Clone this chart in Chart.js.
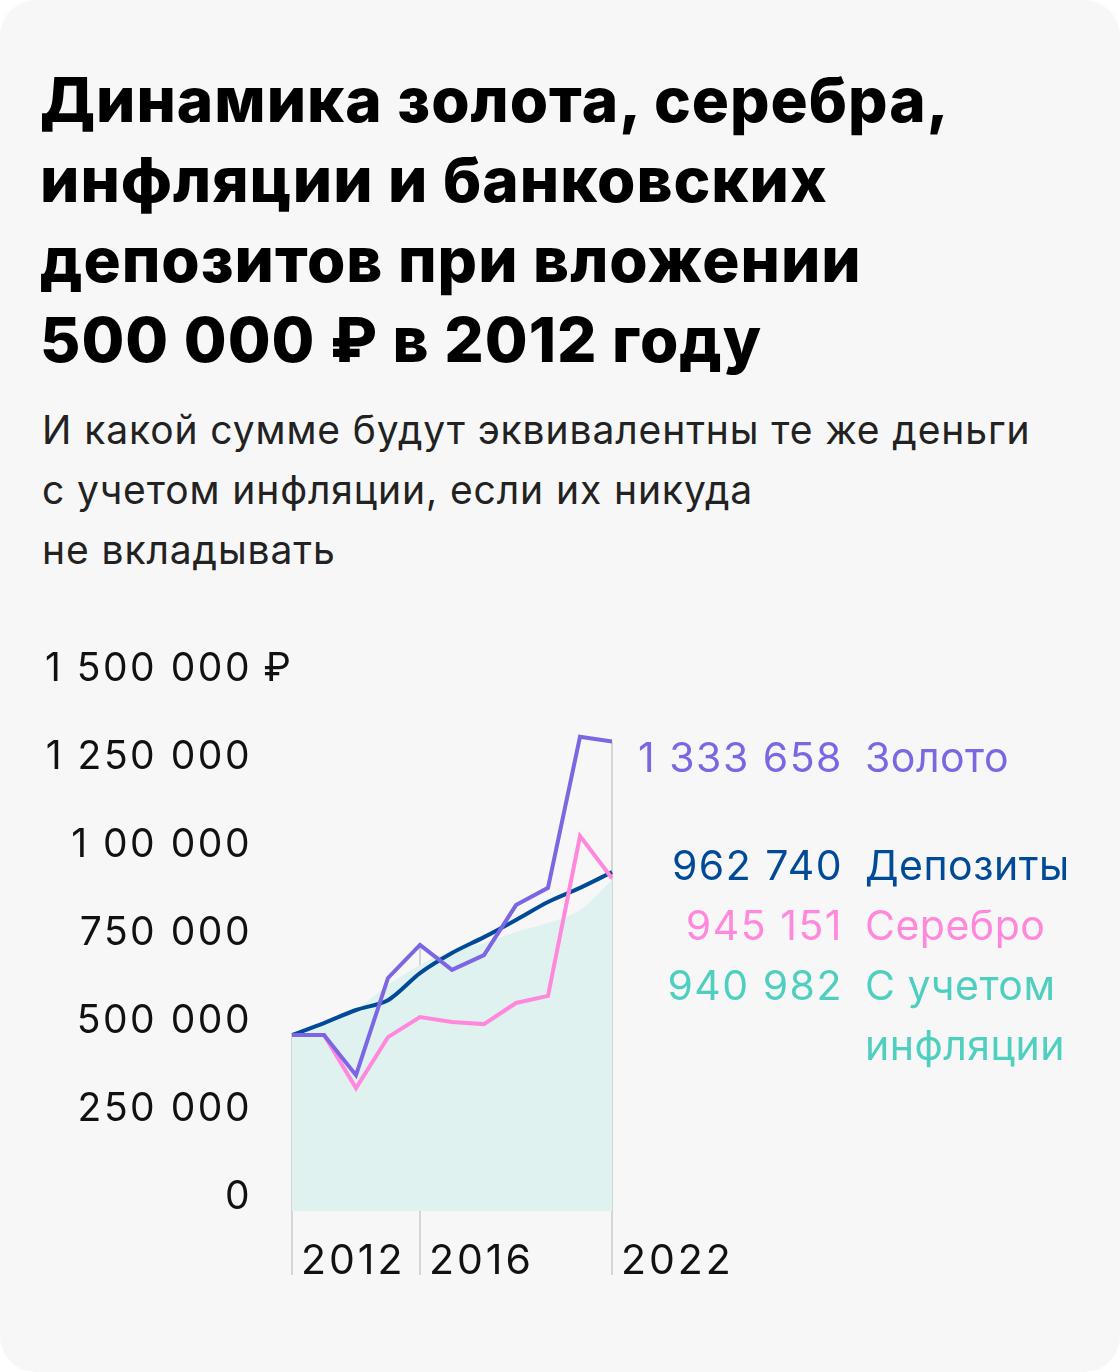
<!DOCTYPE html>
<html>
<head>
<meta charset="utf-8">
<script src="https://cdn.jsdelivr.net/npm/chart.js@4"></script>
<style>
  body { margin: 0; background: #fff; font-family: Inter, Roboto, sans-serif; }
  .card { position: absolute; left: 0; top: 0; width: 1120px; height: 1372px; background: #f7f7f7; border-radius: 36px; overflow: hidden; }
  h1 { position: absolute; left: 40px; top: 60px; margin: 0; font-size: 62px; line-height: 80px; font-weight: 800; color: #000; letter-spacing: 1px; white-space: nowrap; }
  .sub { position: absolute; left: 42px; top: 400px; font-size: 39px; line-height: 60px; color: #222; letter-spacing: 0.9px; white-space: nowrap; }
  canvas { position: absolute; left: 0; top: 600px; }
  .lab { position: absolute; font-size: 41px; line-height: 60px; white-space: nowrap; letter-spacing: 1.5px; }
  .num { text-align: right; width: 300px; left: 543px; }
  .name { left: 865px; letter-spacing: 0.5px; }
</style>
</head>
<body>
<div class="card">
  <h1>Динамика золота, серебра,<br>инфляции и банковских<br>депозитов при вложении<br>500 000 ₽ в 2012 году</h1>
  <div class="sub">И какой сумме будут эквивалентны те же деньги<br>с учетом инфляции, если их никуда<br>не вкладывать</div>
  <canvas id="chart" width="1120" height="700"></canvas>
  <div class="lab num" style="top:727px;color:#7d66e3">1 333 658</div>
  <div class="lab name" style="top:727px;color:#7d66e3">Золото</div>
  <div class="lab num" style="top:835px;color:#004a98">962 740</div>
  <div class="lab name" style="top:835px;color:#004a98">Депозиты</div>
  <div class="lab num" style="top:895px;color:#ff88dd">945 151</div>
  <div class="lab name" style="top:895px;color:#ff88dd">Серебро</div>
  <div class="lab num" style="top:955px;color:#4fcfc0">940 982</div>
  <div class="lab name" style="top:955px;color:#4fcfc0">С учетом<br>инфляции</div>
</div>
<script>
const years = ['2012', '2013', '2014', '2015', '2016', '2017', '2018', '2019', '2020', '2021', '2022'];
const gold = [500000, 500000, 386000, 662000, 756000, 685000, 727000, 869000, 918000, 1347000, 1333658];
const silver = [500000, 500000, 349000, 494000, 551000, 537000, 531000, 591000, 611000, 1065000, 945151];
const deposits = [500000, 534000, 571000, 599000, 676000, 733000, 778000, 827000, 878000, 918000, 962740];
const inflation = [500000, 534000, 571000, 642000, 699000, 741000, 761000, 793000, 818000, 855000, 940982];
const yTicks = [0, 250000, 500000, 750000, 1000000, 1250000, 1500000];
const yTickLabels = ['0', '250 000', '500 000', '750 000', '1 00 000', '1 250 000', '1 500 000'];
const xMarked = ['2012', '2016', '2022'];

const overlay = {
  id: 'overlay',
  beforeDatasetsDraw(chart) {
    const { ctx, scales: { x, y } } = chart;
    ctx.save();
    ctx.strokeStyle = '#d3d6d6';
    ctx.lineWidth = 2;
    xMarked.forEach(yr => {
      const i = years.indexOf(yr);
      const px = x.getPixelForValue(i);
      const top = y.getPixelForValue(Math.max(gold[i], silver[i], deposits[i]));
      ctx.beginPath();
      ctx.moveTo(px, top);
      ctx.lineTo(px, 675);
      ctx.stroke();
    });
    ctx.restore();
  },
  afterDraw(chart) {
    const { ctx, scales: { x, y } } = chart;
    ctx.save();
    ctx.font = '39px Inter, Roboto, sans-serif';
    ctx.letterSpacing = '2.5px';
    ctx.fillStyle = '#111';
    ctx.textBaseline = 'middle';
    yTicks.forEach((v, i) => {
      const py = y.getPixelForValue(v) - 14;
      ctx.textAlign = 'right';
      ctx.fillText(yTickLabels[i], 252, py);
      if (i === yTicks.length - 1) {
        ctx.textAlign = 'left';
        ctx.fillText(' ₽', 250, py);
      }
    });
    ctx.textAlign = 'left';
    ctx.font = '41px Inter, Roboto, sans-serif';
    ctx.letterSpacing = '3px';
    xMarked.forEach(yr => {
      const px = x.getPixelForValue(years.indexOf(yr));
      ctx.fillText(yr, px + 9, 662);
    });
    ctx.restore();
  }
};

new Chart(document.getElementById('chart'), {
  type: 'line',
  data: {
    labels: years,
    datasets: [
      { data: gold, borderColor: '#7d66e3', borderWidth: 4, tension: 0, pointRadius: 0 },
      { data: silver, borderColor: '#ff88dd', borderWidth: 4, tension: 0, pointRadius: 0 },
      { data: deposits, borderColor: '#004a98', borderWidth: 4, tension: 0.3, pointRadius: 0 },
      { data: inflation, borderColor: 'rgba(0,0,0,0)', borderWidth: 0, backgroundColor: '#e0f2ef', fill: 'origin', tension: 0.3, pointRadius: 0, order: 10 }
    ]
  },
  options: {
    responsive: false,
    animation: false,
    layout: { padding: { left: 292, right: 508, top: 83, bottom: 89 } },
    plugins: { legend: { display: false }, tooltip: { enabled: false } },
    scales: {
      x: { display: false, offset: false },
      y: { display: false, min: 0, max: 1500000 }
    }
  },
  plugins: [overlay]
});
</script>
</body>
</html>
